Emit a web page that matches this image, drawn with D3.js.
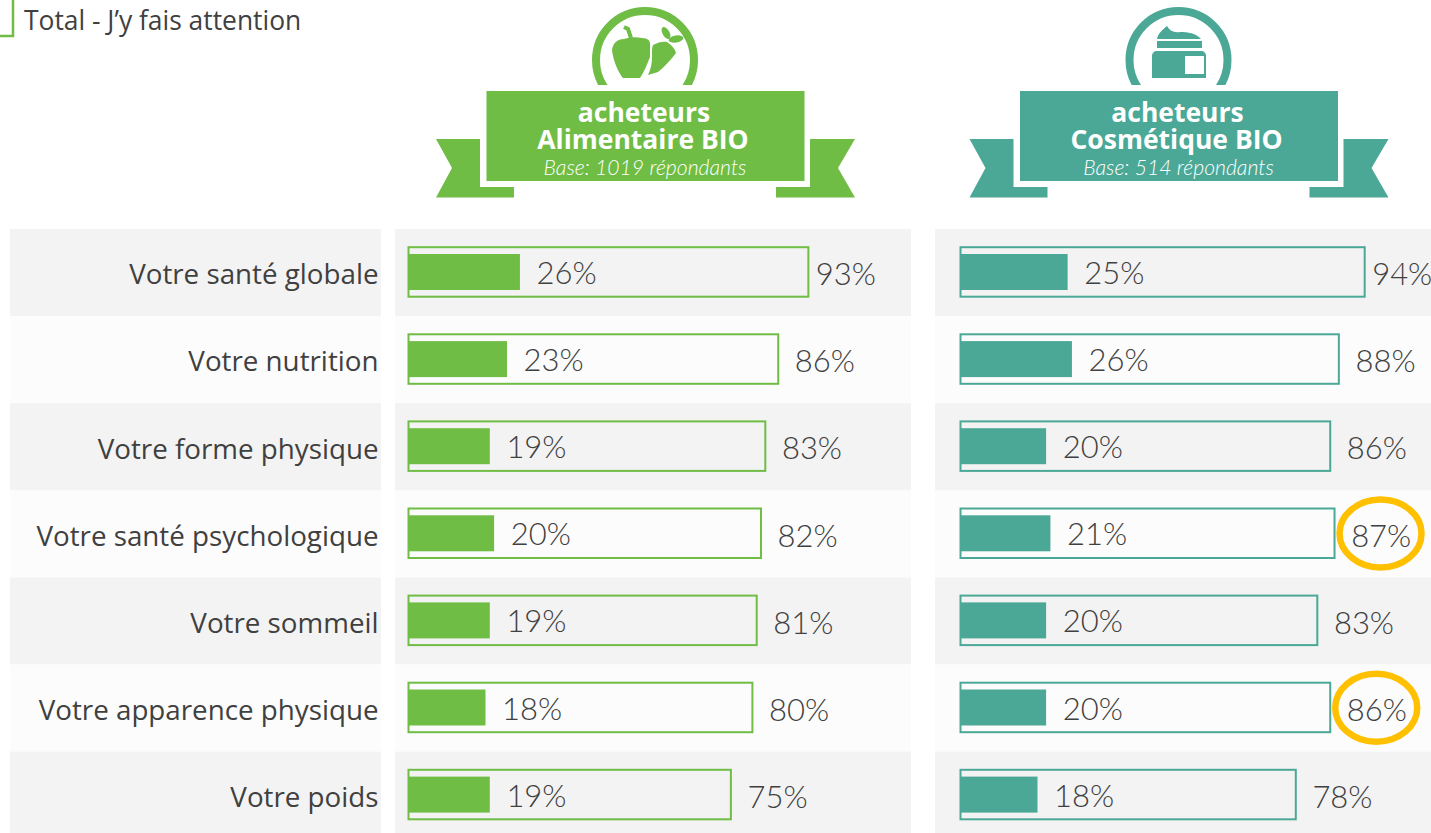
<!DOCTYPE html>
<html><head><meta charset="utf-8">
<script src="https://cdn.jsdelivr.net/npm/d3@7"></script>
<style>html,body{margin:0;padding:0;background:#fff;overflow:hidden}svg{display:block}</style>
</head><body><svg id="c" width="1431" height="833"></svg>
<script>
const categories = ["Votre santé globale","Votre nutrition","Votre forme physique","Votre santé psychologique","Votre sommeil","Votre apparence physique","Votre poids"];
const foodTotal = [93,86,83,82,81,80,75];
const foodInner = [26,23,19,20,19,18,19];
const cosmeticTotal = [94,88,86,87,83,86,78];
const cosmeticInner = [25,26,20,21,20,20,18];
const highlightedCosmetic = ["Votre santé psychologique","Votre apparence physique"];
const panelTitle = "Total - J’y fais attention";

const GREEN="#6fbd45", TEAL="#4ba896", TXT="#404040", PCT="'Lato'", LAB="'Open Sans'";
const svg=d3.select("#c");
const y=d3.scaleBand().domain(categories).range([229,229+87.1*7]).padding(0);
const x=d3.scaleLinear().domain([0,100]).range([0,430.5]);

// stripes
const cols=[[10,371],[395,516],[935,496]];
cols.forEach(([cx,w])=>{
  svg.append("g").selectAll("rect").data(categories).join("rect")
    .attr("x",cx).attr("y",d=>y(d)).attr("width",w).attr("height",y.bandwidth())
    .attr("fill",(d,i)=>i%2?"#fcfcfc":"#f3f3f3");
});

// category labels
svg.append("g").selectAll("text").data(categories).join("text")
  .attr("x",378.5).attr("y",d=>y(d)+55.3).attr("text-anchor","end")
  .attr("font-family",LAB).attr("font-size",27.75).attr("fill",TXT).text(d=>d);

function panel(x0,total,inner,color,flagged){
  const g=svg.append("g");
  const rows=categories.map((c,i)=>({c,t:total[i],v:inner[i]}));
  g.selectAll("rect.o").data(rows).join("rect").attr("class","o")
    .attr("x",x0+0.5).attr("y",d=>y(d.c)+18.2).attr("width",d=>x(d.t)-0.5).attr("height",49.5)
    .attr("fill","none").attr("stroke",color).attr("stroke-width",2);
  g.selectAll("rect.i").data(rows).join("rect").attr("class","i")
    .attr("x",x0).attr("y",d=>y(d.c)+25).attr("width",d=>x(d.v)).attr("height",36)
    .attr("fill",color);
  g.selectAll("text.i").data(rows).join("text").attr("class","i")
    .attr("x",d=>x0+x(d.v)+16.6).attr("y",d=>y(d.c)+55)
    .attr("font-family",PCT).attr("font-weight",300).attr("font-size",31).attr("fill",TXT).text(d=>d.v+"%");
  g.selectAll("text.t").data(rows).join("text").attr("class","t")
    .attr("x",d=>x0+x(d.t)+(d.t>=93?7.5:16.6)).attr("y",d=>y(d.c)+56.2)
    .attr("font-family",PCT).attr("font-weight",300).attr("font-size",31).attr("fill",TXT).text(d=>d.t+"%");
  g.selectAll("ellipse").data(rows.filter(d=>flagged.includes(d.c))).join("ellipse")
    .attr("cx",d=>x0+x(d.t)+46).attr("cy",d=>y(d.c)+43.2).attr("rx",41).attr("ry",34)
    .attr("fill","none").attr("stroke","#ffc000").attr("stroke-width",6.5);
}
panel(408,foodTotal,foodInner,GREEN,[]);
panel(960,cosmeticTotal,cosmeticInner,TEAL,highlightedCosmetic);

// top-left
svg.append("path").attr("d","M0 36H13V0").attr("fill","none").attr("stroke",GREEN).attr("stroke-width",2.5);
svg.append("text").attr("x",24).attr("y",30).attr("font-family",LAB).attr("font-size",26.4).attr("fill",TXT).text(panelTitle);

// banners
function banner(dx,color,l1,l2,base,icon){
  const g=svg.append("g").attr("transform",`translate(${dx},0)`);
  g.append("defs").append("clipPath").attr("id","clip"+dx).append("rect").attr("x",560).attr("y",0).attr("width",170).attr("height",85);
  g.append("circle").attr("cx",645).attr("cy",60).attr("r",49).attr("fill","none").attr("stroke",color).attr("stroke-width",8).attr("clip-path",`url(#clip${dx})`);
  icon(g,color);
  g.append("path").attr("fill",color).attr("d","M436 139H480V187H514V197.5H436L452 168Z");
  g.append("path").attr("fill",color).attr("d","M855 139H810V187H776V197.5H855L838 168Z");
  g.append("rect").attr("x",486.5).attr("y",91).attr("width",318).attr("height",90).attr("fill",color);
  const cx=645.5;
  g.append("text").attr("x",cx-1.5).attr("y",122).attr("text-anchor","middle").attr("font-family",LAB).attr("font-weight",700).attr("font-size",26.5).attr("fill","#fff").text(l1);
  g.append("text").attr("x",cx-2.5).attr("y",149).attr("text-anchor","middle").attr("font-family",LAB).attr("font-weight",700).attr("font-size",26.5).attr("fill","#fff").text(l2);
  g.append("text").attr("x",cx-0.5).attr("y",175).attr("text-anchor","middle").attr("font-family",PCT).attr("font-weight",300).attr("font-style","italic").attr("font-size",21.2).attr("fill","#fff").text(base);
}
function veg(g,c){
  g.append("path").attr("fill",c).attr("d","M612 50C613 43 617 39 624 39C630 37 636 37 642 38C648 38 651 41 650 47L650 57C647 65 644 72 640 78H623C618 72 613 60 612 50Z");
  g.append("path").attr("fill","none").attr("stroke",c).attr("stroke-width",4).attr("d","M624 27L628 29L631 38");
  g.append("path").attr("fill",c).attr("d","M653 45C658 42 664 41 667 42C672 45 675 49 676 53C671 60 664 67 658 72L648 75C652 67 652 60 652 55C652 50 652 48 653 45Z");
  g.append("ellipse").attr("cx",666).attr("cy",33).attr("rx",3.5).attr("ry",6.5).attr("fill",c).attr("transform","rotate(-30 666 33)");
  g.append("ellipse").attr("cx",676).attr("cy",39).attr("rx",7.5).attr("ry",3.5).attr("fill",c).attr("transform","rotate(-10 676 39)");
}
function jar(g,c){
  const o=g.append("g").attr("transform","translate(-533.5,0)");
  o.append("path").attr("fill",c).attr("d","M1157 39C1158 34 1161 31 1167 26C1170 31 1174 33 1180 32C1188 32 1196 33 1201 39Z");
  o.append("rect").attr("x",1157).attr("y",41).attr("width",45).attr("height",7).attr("fill",c);
  o.append("path").attr("fill",c).attr("d","M1152 78V56C1152 53 1154 51 1157 51H1201C1204 51 1206 53 1206 56V78Z");
  o.append("rect").attr("x",1185).attr("y",56).attr("width",19).attr("height",18).attr("fill","#fff");
}
banner(0,GREEN,"acheteurs","Alimentaire BIO","Base: 1019 répondants",veg);
banner(533.5,TEAL,"acheteurs","Cosmétique BIO","Base: 514 répondants",jar);
</script></body></html>
